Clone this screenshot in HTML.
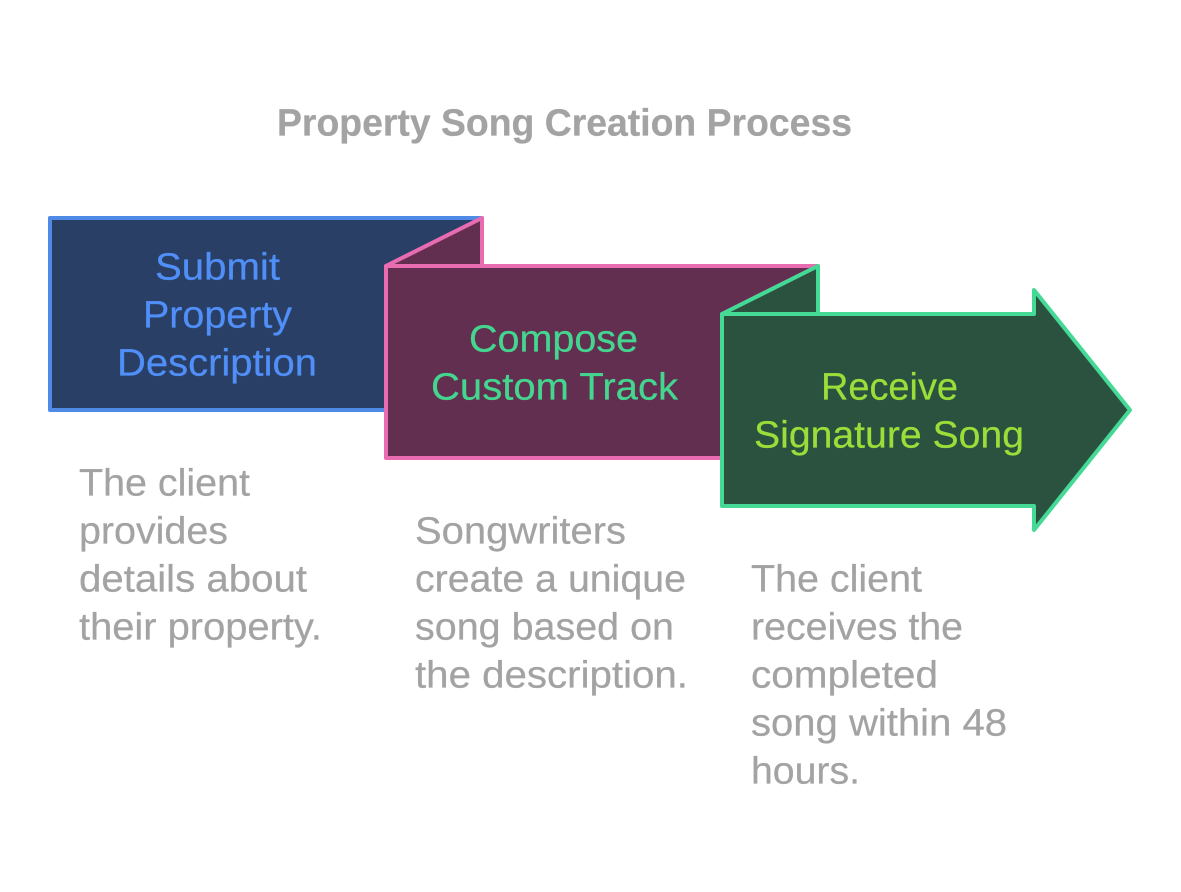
<!DOCTYPE html>
<html><head><meta charset="utf-8"><style>
html,body{margin:0;padding:0;background:#fff}
svg{display:block}
text{font-family:"Liberation Sans",sans-serif;font-size:38px;stroke-width:.25px;stroke:currentColor}
.d{fill:#a3a3a3;color:#a3a3a3}
</style></head><body>
<svg width="1181" height="892" viewBox="0 0 1181 892" xmlns="http://www.w3.org/2000/svg">
<rect width="1181" height="892" fill="#fff"/>
<g transform="translate(0,-0.5)">
<text x="277" y="136" textLength="575" lengthAdjust="spacingAndGlyphs" style="font-weight:bold;color:#a3a3a3" fill="#a3a3a3">Property Song Creation Process</text>
</g>
<g stroke-width="4" stroke-linejoin="round">
<path d="M50 218H482L386 266V410H50Z" fill="#2a3f66" stroke="#4f8ae6"/>
<path d="M386 266L482 218V266Z" fill="#632f50" stroke="#e96bb0"/>
<path d="M386 266H818L722 314V458H386Z" fill="#632f50" stroke="#e96bb0"/>
<path d="M722 314L818 266V314Z" fill="#2b523f" stroke="#44da96"/>
<path d="M722 314H1034V290L1130 410L1034 530V506H722Z" fill="#2b523f" stroke="#44da96"/>
</g>
<g transform="translate(0,-0.5)">
<g fill="#4f8ff7" color="#4f8ff7">
<text x="155" y="280" textLength="125" lengthAdjust="spacingAndGlyphs">Submit</text>
<text x="143" y="328" textLength="149" lengthAdjust="spacingAndGlyphs">Property</text>
<text x="117" y="376" textLength="200" lengthAdjust="spacingAndGlyphs">Description</text>
</g>
<g fill="#44d68f" color="#44d68f">
<text x="469" y="352" textLength="169" lengthAdjust="spacingAndGlyphs">Compose</text>
<text x="431" y="400" textLength="247" lengthAdjust="spacingAndGlyphs">Custom Track</text>
</g>
<g fill="#9ade3a" color="#9ade3a">
<text x="821" y="400" textLength="137" lengthAdjust="spacingAndGlyphs">Receive</text>
<text x="754" y="448" textLength="270" lengthAdjust="spacingAndGlyphs">Signature Song</text>
</g>
<g class="d">
<text x="79" y="496" textLength="171" lengthAdjust="spacingAndGlyphs">The client</text>
<text x="79" y="544" textLength="149" lengthAdjust="spacingAndGlyphs">provides</text>
<text x="79" y="592" textLength="228" lengthAdjust="spacingAndGlyphs">details about</text>
<text x="79" y="640" textLength="243" lengthAdjust="spacingAndGlyphs">their property.</text>
<text x="415" y="544" textLength="211" lengthAdjust="spacingAndGlyphs">Songwriters</text>
<text x="415" y="592" textLength="271" lengthAdjust="spacingAndGlyphs">create a unique</text>
<text x="415" y="640" textLength="259" lengthAdjust="spacingAndGlyphs">song based on</text>
<text x="415" y="688" textLength="273" lengthAdjust="spacingAndGlyphs">the description.</text>
<text x="751" y="592" textLength="171" lengthAdjust="spacingAndGlyphs">The client</text>
<text x="751" y="640" textLength="212" lengthAdjust="spacingAndGlyphs">receives the</text>
<text x="751" y="688" textLength="187" lengthAdjust="spacingAndGlyphs">completed</text>
<text x="751" y="736" textLength="256" lengthAdjust="spacingAndGlyphs">song within 48</text>
<text x="751" y="784" textLength="109" lengthAdjust="spacingAndGlyphs">hours.</text>
</g>
</g>
</svg>
</body></html>
